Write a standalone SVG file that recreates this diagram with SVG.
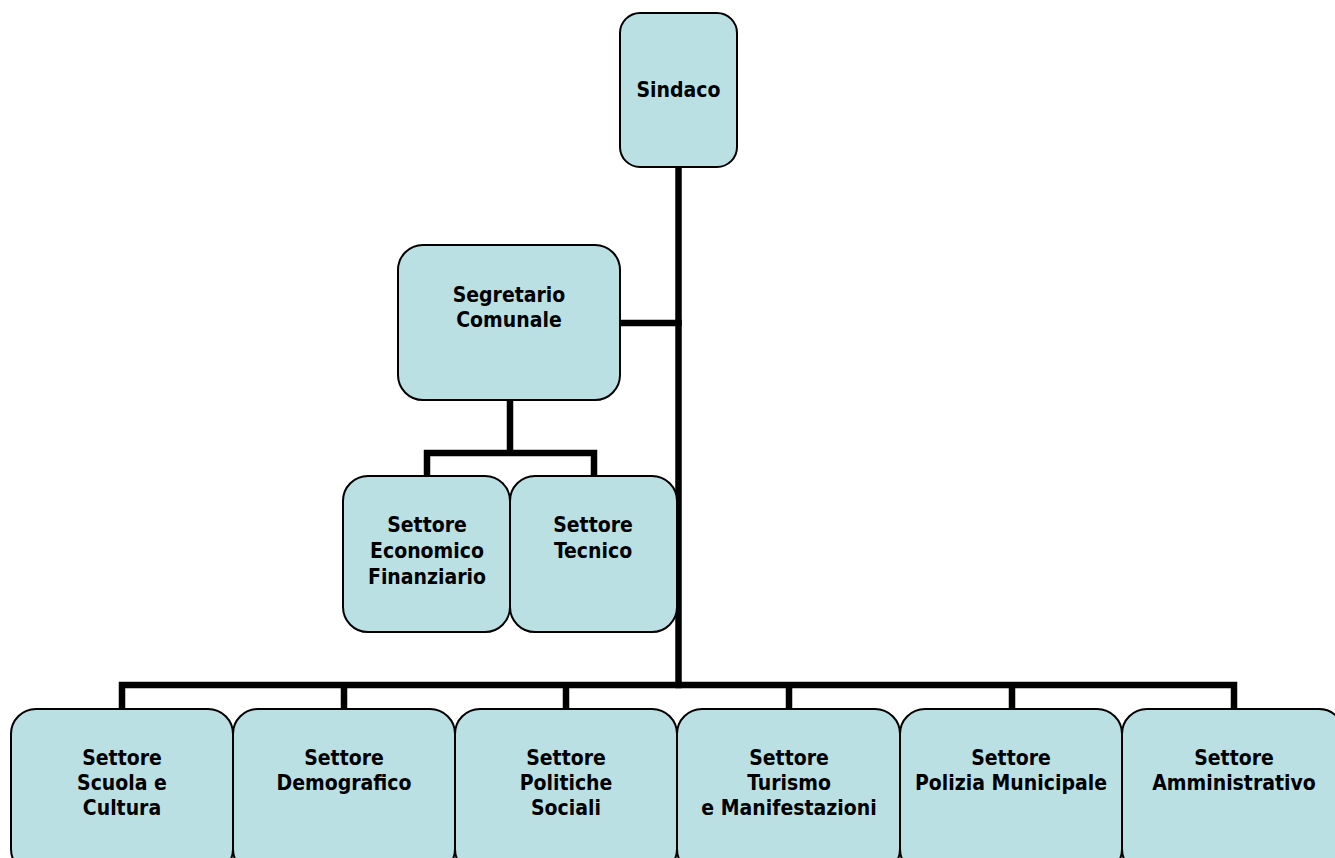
<svg xmlns="http://www.w3.org/2000/svg" width="1335" height="858" viewBox="0 0 1335 858">
<style>
.box{fill:#BAE0E3;stroke:#000;stroke-width:2}
.lbl{font-family:"DejaVu Sans Condensed","DejaVu Sans","Liberation Sans",sans-serif;font-weight:bold;font-size:21px;fill:#000;text-anchor:middle}
.con{fill:none;stroke:#000;stroke-width:6.5;stroke-linejoin:miter;stroke-linecap:square}
</style>
<rect width="1335" height="858" fill="#fff"/>
<g id="connectors">
<path class="con" d="M678.5,167 V685"/>
<path class="con" d="M620,323 H678.5"/>
<path class="con" d="M510,400 V453 M427,476 V453 H594 V476"/>
<path class="con" d="M122,709 V685 H1234 V709 M344,685 V709 M566,685 V709 M789,685 V709 M1012,685 V709"/>
</g>
<g id="sindaco"><rect class="box" x="620" y="13" width="117" height="154" rx="20"/><text class="lbl" x="678.5" y="97">Sindaco</text></g>
<g id="segretario"><rect class="box" x="398" y="245" width="222" height="155" rx="25"/><text class="lbl" x="509" y="302">Segretario</text><text class="lbl" x="509" y="327">Comunale</text></g>
<g id="economico"><rect class="box" x="343" y="476" width="167" height="156" rx="25"/><text class="lbl" x="427" y="532">Settore</text><text class="lbl" x="427" y="558">Economico</text><text class="lbl" x="427" y="584">Finanziario</text></g>
<g id="tecnico"><rect class="box" x="510" y="476" width="167" height="156" rx="25"/><text class="lbl" x="593" y="532">Settore</text><text class="lbl" x="593" y="558">Tecnico</text></g>
<g id="scuola"><rect class="box" x="11" y="709" width="222" height="165" rx="25"/><text class="lbl" x="122" y="765">Settore</text><text class="lbl" x="122" y="790">Scuola e</text><text class="lbl" x="122" y="815">Cultura</text></g>
<g id="demografico"><rect class="box" x="233" y="709" width="222" height="165" rx="25"/><text class="lbl" x="344" y="765">Settore</text><text class="lbl" x="344" y="790">Demografico</text></g>
<g id="politiche"><rect class="box" x="455" y="709" width="222" height="165" rx="25"/><text class="lbl" x="566" y="765">Settore</text><text class="lbl" x="566" y="790">Politiche</text><text class="lbl" x="566" y="815">Sociali</text></g>
<g id="turismo"><rect class="box" x="677" y="709" width="223" height="165" rx="25"/><text class="lbl" x="789" y="765">Settore</text><text class="lbl" x="789" y="790">Turismo</text><text class="lbl" x="789" y="815">e Manifestazioni</text></g>
<g id="polizia"><rect class="box" x="900" y="709" width="222" height="165" rx="25"/><text class="lbl" x="1011" y="765">Settore</text><text class="lbl" x="1011" y="790">Polizia Municipale</text></g>
<g id="amministrativo"><rect class="box" x="1122" y="709" width="222" height="165" rx="25"/><text class="lbl" x="1234" y="765">Settore</text><text class="lbl" x="1234" y="790">Amministrativo</text></g>
</svg>
